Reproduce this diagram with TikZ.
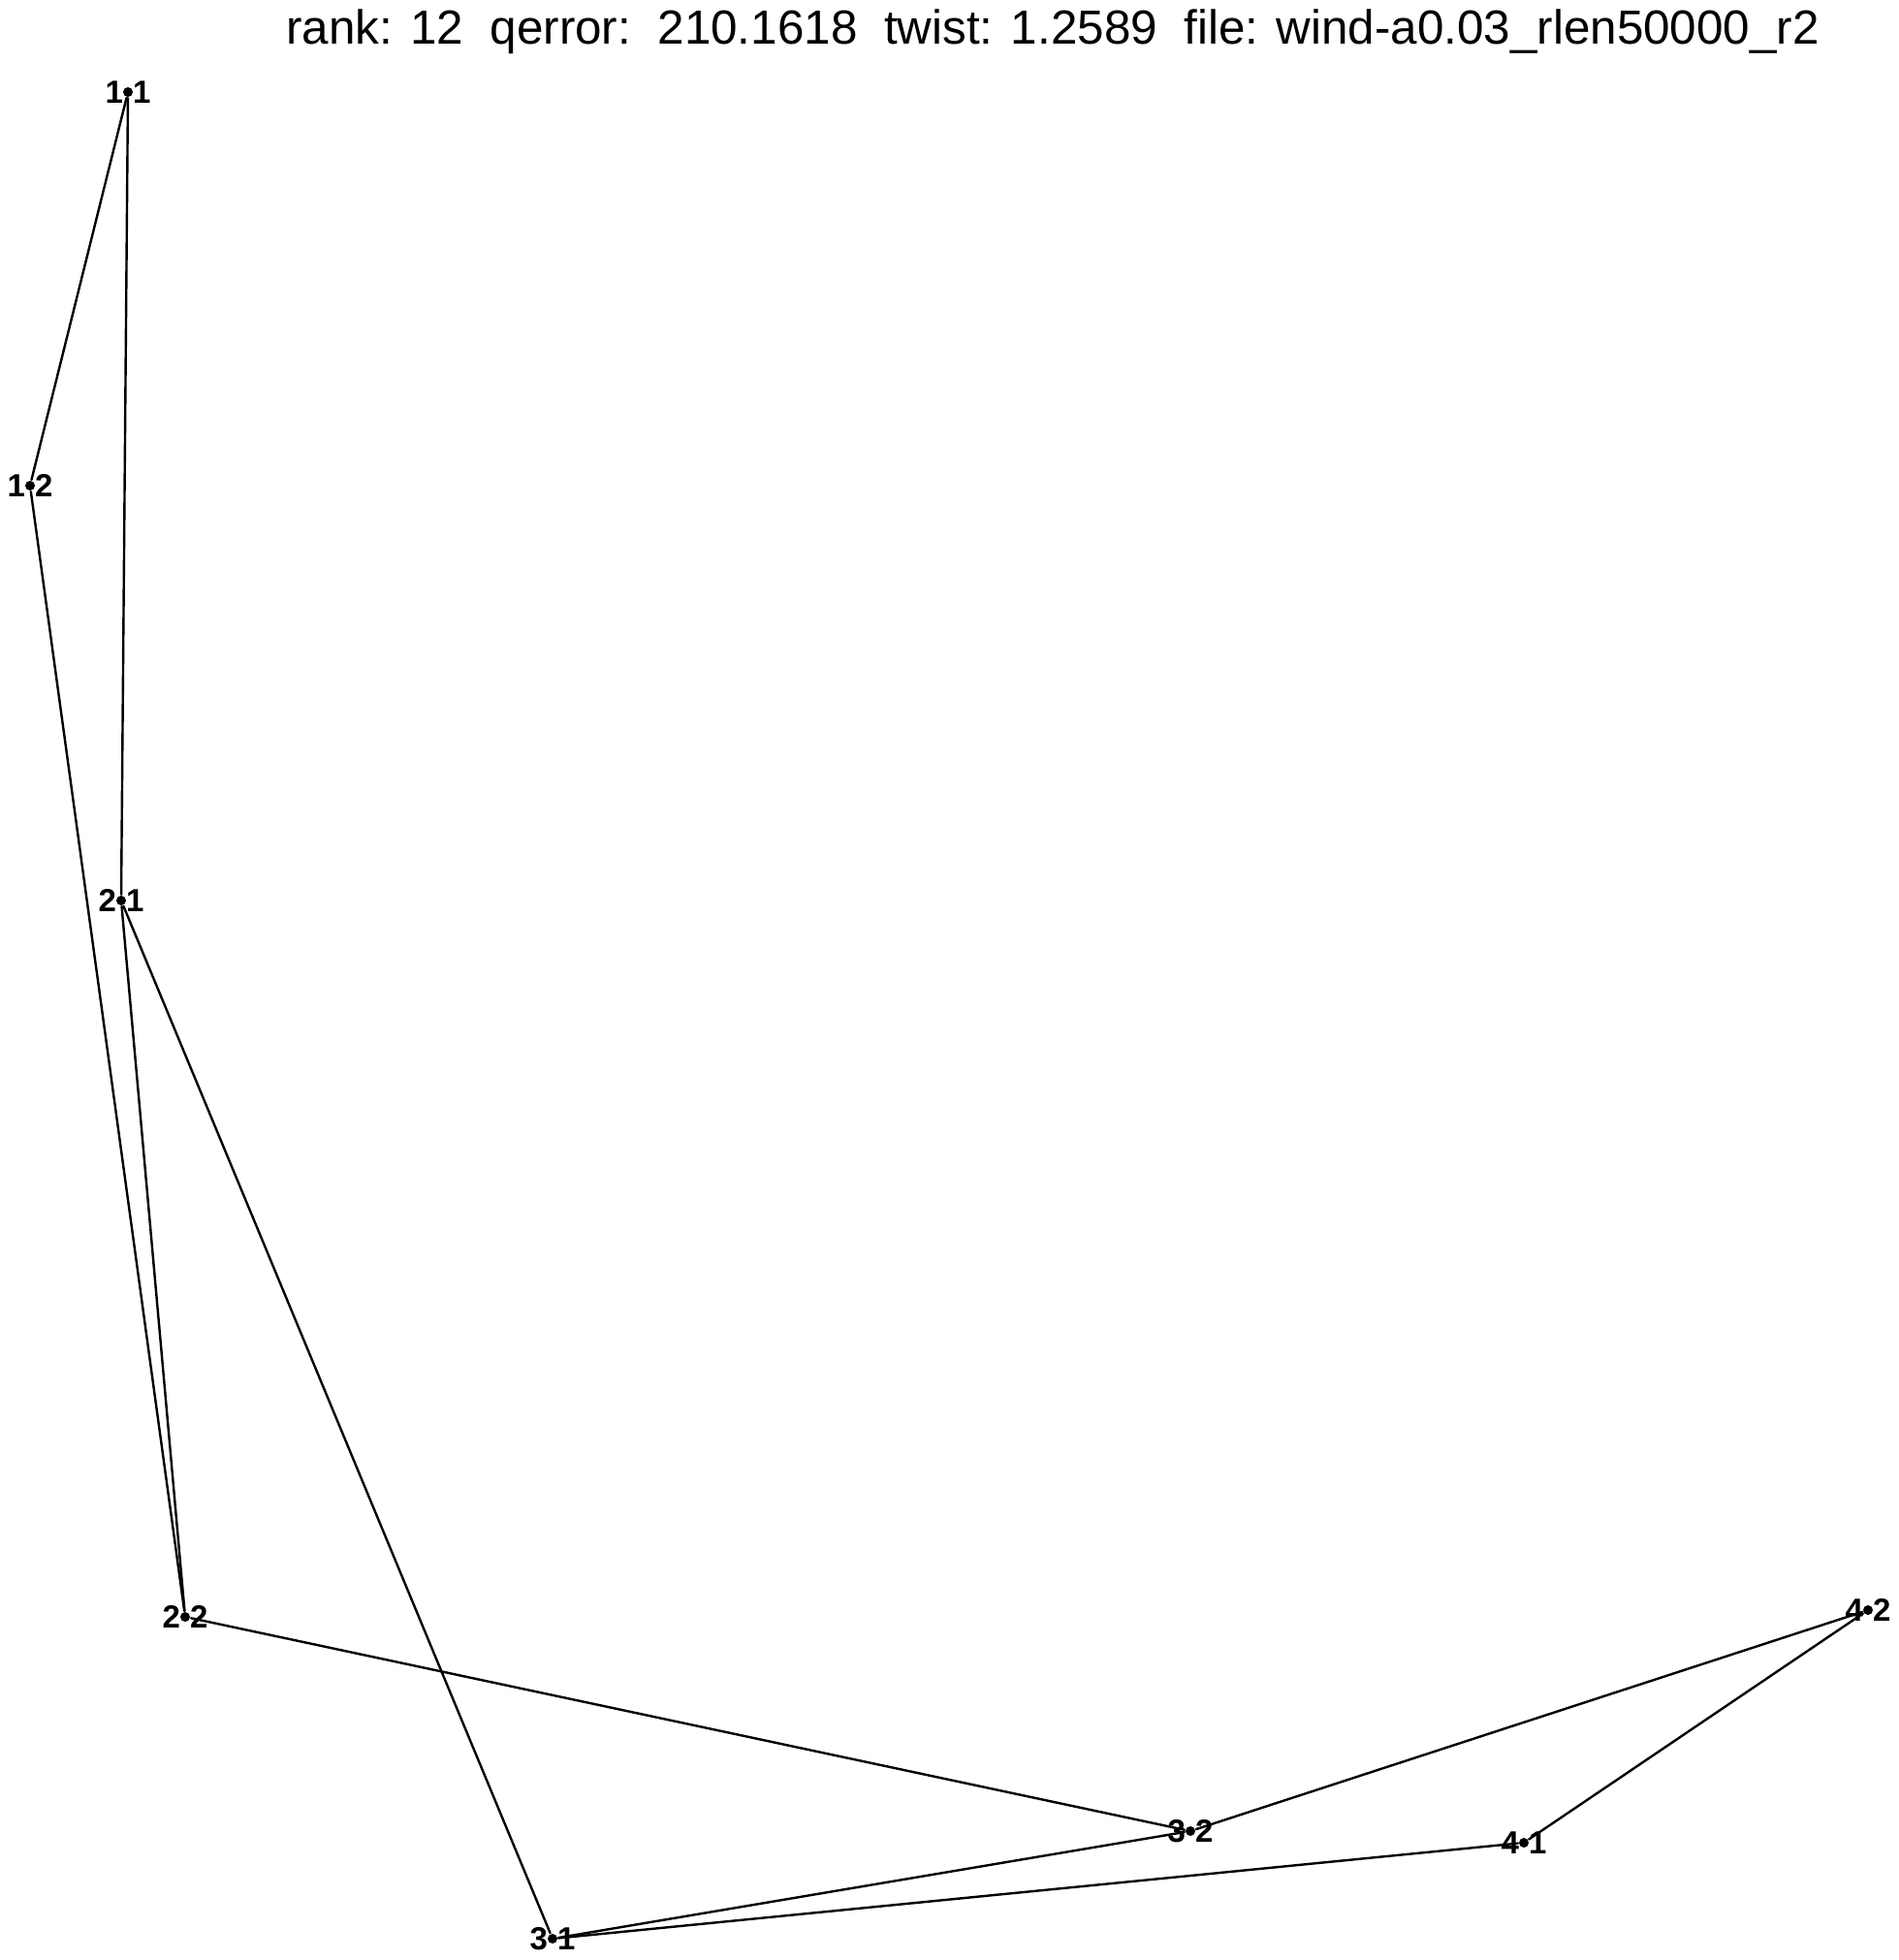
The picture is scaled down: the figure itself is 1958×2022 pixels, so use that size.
\documentclass[tikz,border=0pt]{standalone}
\usepackage{fontspec}
\setmainfont{Liberation Sans}
\begin{document}
\begin{tikzpicture}[x=0.5pt, y=-0.5pt, line join=round, line cap=round, line width=1.2pt,
  vtx/.style={circle, fill, inner sep=0pt, minimum size=5pt},
  lbl/.style={font=\fontsize{16.5}{17}\selectfont\bfseries, inner sep=0pt}]
\useasboundingbox (0,0) rectangle (1958,2022);
\node[anchor=base west, inner sep=0pt, font=\fontsize{24.7}{30}\selectfont] (title) at (294,46)
  {rank: 12~~qerror:~~210.1618~~twist: 1.2589~~file: wind-a0.03\_rlen50000\_r2};
\foreach \nm/\x/\y/\p/\q in {v11/132/95/1/1, v12/31/501/1/2, v21/125/929/2/1, v22/191/1668/2/2,
  v31/570/2000/3/1, v32/1228/1889/3/2, v41/1572/1901/4/1, v42/1927/1661/4/2}
  \node[vtx, label={[lbl, xshift=1.2pt]left:\p}, label={[lbl, xshift=-1.2pt]right:\q}] (\nm) at (\x,\y) {};
%edges
\foreach \a/\b in {v11/v12, v11/v21, v12/v22, v21/v22, v21/v31, v22/v32,
  v31/v32, v31/v41, v32/v42, v41/v42}
  \draw (\a) -- (\b);
\end{tikzpicture}
\end{document}
